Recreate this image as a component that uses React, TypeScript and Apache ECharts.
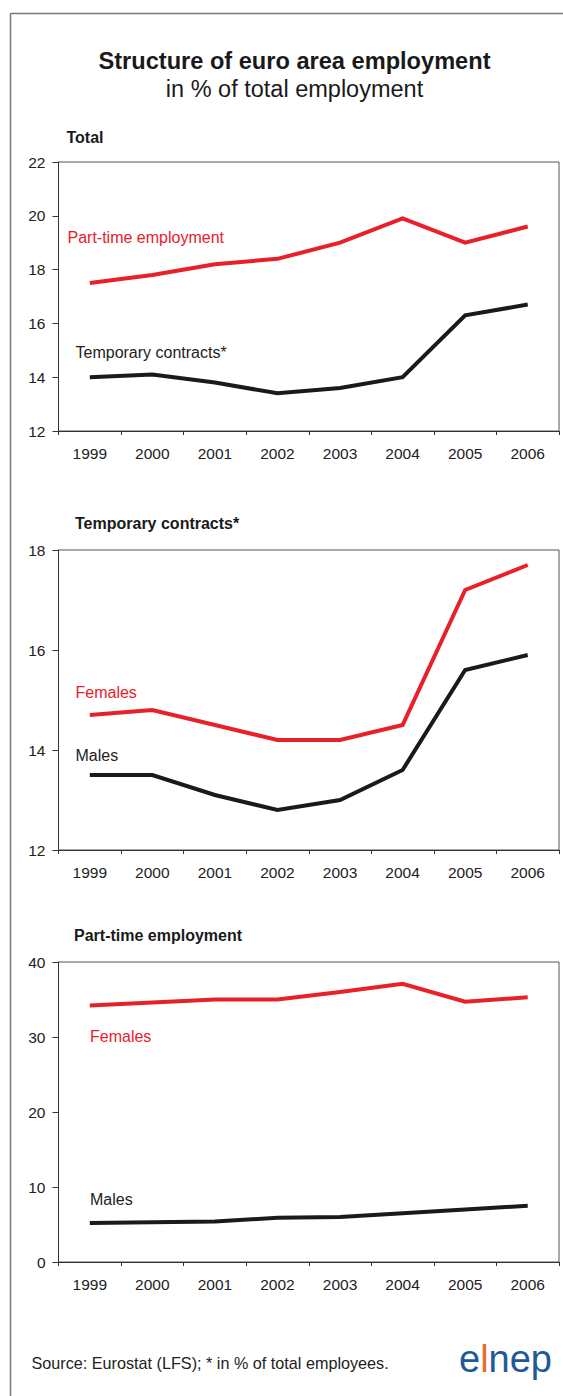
import React, { useEffect, useRef } from "react";
import * as echarts from "echarts";

// Categories and values (per cent)
const years = ["1999", "2000", "2001", "2002", "2003", "2004", "2005", "2006"];

const totalPartTime = [17.5, 17.8, 18.2, 18.4, 19.0, 19.9, 19.0, 19.6];
const totalTemporary = [14.0, 14.1, 13.8, 13.4, 13.6, 14.0, 16.3, 16.7];

const temporaryFemales = [14.7, 14.8, 14.5, 14.2, 14.2, 14.5, 17.2, 17.7];
const temporaryMales = [13.5, 13.5, 13.1, 12.8, 13.0, 13.6, 15.6, 15.9];

const partTimeFemales = [34.2, 34.6, 35.0, 35.0, 36.0, 37.1, 34.7, 35.3];
const partTimeMales = [5.2, 5.3, 5.4, 5.9, 6.0, 6.5, 7.0, 7.5];

// Value-axis ranges for the three panels
const yRanges = [
  { min: 12, max: 22, interval: 2 },
  { min: 12, max: 18, interval: 2 },
  { min: 0, max: 40, interval: 10 },
];

const RED = "#E8202A";
const BLACK = "#1a1a1a";
const FONT = "Liberation Sans, Arial, Helvetica, sans-serif";

const W = 563;
const H = 1396;

const grids = [
  { left: 58.5, top: 162, width: 500.5, height: 269 },
  { left: 58.5, top: 550, width: 500.5, height: 300 },
  { left: 58.5, top: 962, width: 500.5, height: 300 },
];

function text(x: number, y: number, t: string, opts: any = {}) {
  return {
    type: "text",
    x,
    y,
    silent: true,
    style: {
      text: t,
      fontFamily: FONT,
      fontSize: opts.fontSize ?? 16,
      fontWeight: opts.fontWeight ?? "normal",
      fill: opts.fill ?? "#222",
      align: opts.align ?? "left",
      verticalAlign: "middle",
    },
  };
}

export default function App() {
  const ref = useRef<HTMLDivElement>(null);

  useEffect(() => {
    if (!ref.current) return;
    const chart = echarts.init(ref.current, null, { renderer: "svg" });

    const xAxes = grids.map((_, i) => ({
      type: "category",
      gridIndex: i,
      data: years,
      boundaryGap: true,
      axisLine: { lineStyle: { color: "#333", width: 1 } },
      axisTick: { show: true, length: 4, inside: false, alignWithLabel: false, lineStyle: { color: "#333" } },
      axisLabel: { fontFamily: FONT, fontSize: 15.5, color: "#222", margin: 14 },
      splitLine: { show: false },
    }));

    const yAxes = yRanges.map((r, i) => ({
      type: "value",
      gridIndex: i,
      min: r.min,
      max: r.max,
      interval: r.interval,
      axisLine: { show: true, lineStyle: { color: "#333", width: 1 } },
      axisTick: { show: true, length: 6, inside: false, lineStyle: { color: "#333" } },
      axisLabel: { fontFamily: FONT, fontSize: 15.5, color: "#222", margin: 13 },
      splitLine: { show: false },
    }));

    const line = (name: string, data: number[], idx: number, color: string) => ({
      name,
      type: "line",
      xAxisIndex: idx,
      yAxisIndex: idx,
      data,
      symbol: "none",
      lineStyle: { color, width: 4, cap: "butt", join: "miter" },
      silent: true,
    });

    chart.setOption({
      animation: false,
      backgroundColor: "#fff",
      grid: grids.map((g) => ({
        ...g,
        show: true,
        borderColor: "#555",
        borderWidth: 1,
        backgroundColor: "transparent",
        containLabel: false,
      })),
      xAxis: xAxes,
      yAxis: yAxes,
      series: [
        line("Part-time employment", totalPartTime, 0, RED),
        line("Temporary contracts*", totalTemporary, 0, BLACK),
        line("Females", temporaryFemales, 1, RED),
        line("Males", temporaryMales, 1, BLACK),
        line("Females", partTimeFemales, 2, RED),
        line("Males", partTimeMales, 2, BLACK),
      ],
      graphic: [
        // outer frame
        { type: "line", silent: true, shape: { x1: 10.5, y1: 13.5, x2: W, y2: 13.5 }, style: { stroke: "#7a7a7a", lineWidth: 1.5 } },
        { type: "line", silent: true, shape: { x1: 10.5, y1: 13.5, x2: 10.5, y2: H }, style: { stroke: "#7a7a7a", lineWidth: 1.5 } },
        // headings
        text(294.5, 61, "Structure of euro area employment", { fontSize: 23.6, fontWeight: "bold", align: "center", fill: "#1a1a1a" }),
        text(294.5, 89, "in % of total employment", { fontSize: 23.5, align: "center", fill: "#1a1a1a" }),
        // panel titles
        text(66.5, 137, "Total", { fontSize: 16, fontWeight: "bold", fill: "#1a1a1a" }),
        text(75, 523, "Temporary contracts*", { fontSize: 16, fontWeight: "bold", fill: "#1a1a1a" }),
        text(74, 935, "Part-time employment", { fontSize: 16, fontWeight: "bold", fill: "#1a1a1a" }),
        // line labels
        text(67.5, 237, "Part-time employment", { fill: RED }),
        text(75.5, 352, "Temporary contracts*", { fill: "#222" }),
        text(75.5, 692, "Females", { fill: RED }),
        text(75.5, 755, "Males", { fill: "#222" }),
        text(90, 1036, "Females", { fill: RED }),
        text(90, 1199, "Males", { fill: "#222" }),
        // footnote
        text(31.5, 1363, "Source: Eurostat (LFS); * in % of total employees.", { fontSize: 16.2 }),
        // logo
        {
          type: "text",
          x: 459,
          y: 1359,
          silent: true,
          style: {
            text: "{b|e}{o|l}{b|nep}",
            fontFamily: FONT,
            fontSize: 38,
            verticalAlign: "middle",
            rich: {
              b: { fill: "#1F5A96", fontSize: 38, fontFamily: FONT },
              o: { fill: "#EE6A2C", fontSize: 38, fontFamily: FONT },
            },
          },
        },
      ],
    });

    return () => chart.dispose();
  }, []);

  return (
    <div
      ref={ref}
      style={{ position: "absolute", left: 0, top: 0, width: W, height: H, background: "#fff" }}
    />
  );
}
